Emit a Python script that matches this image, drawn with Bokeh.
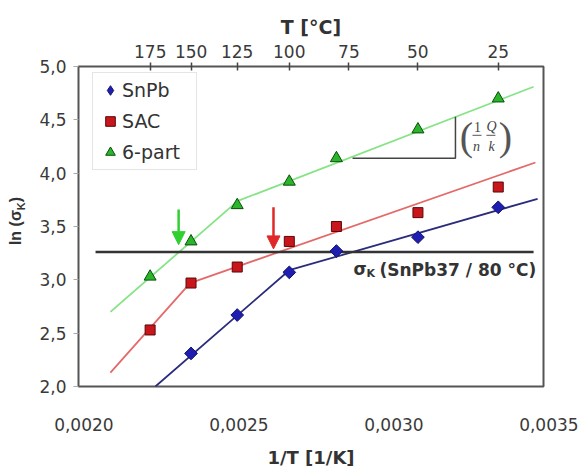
from math import pi
from bokeh.plotting import figure
from bokeh.layouts import row
from bokeh.models import (Range1d, LinearAxis, FixedTicker, Label, Arrow, NormalHead,
                          Legend, LegendItem, CustomJSTickFormatter, Div)
from bokeh.embed import file_html
from bokeh.resources import INLINE

# ---------------- data ----------------
inv_T_all = [0.002231, 0.002363, 0.002512, 0.002680, 0.002832, 0.003095, 0.003354]
inv_T_snpb = [0.002363, 0.002512, 0.002680, 0.002832, 0.003095, 0.003354]
ln_snpb = [2.31, 2.67, 3.07, 3.27, 3.40, 3.68]
ln_sac = [2.53, 2.97, 3.12, 3.36, 3.50, 3.63, 3.87]
ln_6part = [3.03, 3.36, 3.70, 3.92, 4.14, 4.41, 4.70]

fit_snpb_x = [0.002248, 0.002680, 0.003481]
fit_snpb_y = [2.00, 3.09, 3.76]
fit_sac_x = [0.002103, 0.002360, 0.003474]
fit_sac_y = [2.13, 2.97, 4.10]
fit_6part_x = [0.002103, 0.002514, 0.003468]
fit_6part_y = [2.70, 3.74, 4.81]

ref_x = [0.002055, 0.003468]
ref_y = [3.26, 3.26]

top_T_ticks = [175, 150, 125, 100, 75, 50, 25]
x_ticks = [0.0020, 0.0025, 0.0030, 0.0035]
y_ticks = [2.0, 2.5, 3.0, 3.5, 4.0, 4.5, 5.0]

SANS = "DejaVu Sans"
SERIF = "Liberation Serif"

p = figure(width=550, height=470, x_range=Range1d(0.0020, 0.0035), y_range=Range1d(2.0, 5.0),
           output_backend="svg", toolbar_location=None,
           min_border_left=48, min_border_right=37, min_border_top=66, min_border_bottom=83,
           background_fill_color="white", border_fill_color="white", margin=0)
p.xgrid.visible = False
p.ygrid.visible = False
p.outline_line_color = "#555555"
p.outline_line_width = 2

# bottom axis (labels sit a few pixels right of the tick positions, as in the reference)
xa = p.xaxis[0]
xa.ticker = FixedTicker(ticks=x_ticks)
xa.formatter = CustomJSTickFormatter(
    code="return '\\u00a0\\u00a0' + tick.toFixed(4).replace('.', ',');")
xa.axis_line_color = None
xa.major_tick_line_color = None
xa.minor_tick_line_color = None
xa.major_label_standoff = 22
xa.major_label_text_font = SANS
xa.major_label_text_font_size = "17px"
xa.major_label_text_color = "#3a3a3a"
xa.axis_label = "1/T [1/K]"
xa.axis_label_standoff = 9
xa.axis_label_text_font = SANS
xa.axis_label_text_font_style = "bold"
xa.axis_label_text_font_size = "18px"
xa.axis_label_text_color = "#333333"

# left axis
ya = p.yaxis[0]
ya.ticker = FixedTicker(ticks=y_ticks)
ya.formatter = CustomJSTickFormatter(code="return tick.toFixed(1).replace('.', ',');")
ya.axis_line_color = None
ya.major_tick_in = 0
ya.major_tick_out = 5
ya.major_tick_line_color = "#aaaaaa"
ya.minor_tick_line_color = None
ya.major_label_standoff = 7
ya.major_label_text_font = SANS
ya.major_label_text_font_size = "17px"
ya.major_label_text_color = "#3a3a3a"

# top axis (temperature)
top_ticks = [1.0 / (t + 273.15) for t in top_T_ticks]
ta = LinearAxis(ticker=FixedTicker(ticks=top_ticks),
                formatter=CustomJSTickFormatter(code="return Math.round(1/tick - 273.15).toString();"))
ta.axis_line_color = None
ta.major_tick_in = 4
ta.major_tick_out = 4
ta.major_tick_line_color = "#444444"
ta.major_tick_line_width = 1.5
ta.minor_tick_line_color = None
ta.major_label_standoff = 5
ta.major_label_text_font = SANS
ta.major_label_text_font_size = "17px"
ta.major_label_text_color = "#3a3a3a"
ta.axis_label = "T [°C]"
ta.axis_label_standoff = 4
ta.axis_label_text_font = SANS
ta.axis_label_text_font_style = "bold"
ta.axis_label_text_font_size = "19px"
ta.axis_label_text_color = "#333333"
p.add_layout(ta, "above")

# fit lines
p.line(fit_6part_x, fit_6part_y, line_color="#86e486", line_width=1.8)
p.line(fit_sac_x, fit_sac_y, line_color="#e46a6a", line_width=1.8)
p.line(fit_snpb_x, fit_snpb_y, line_color="#2c2c7c", line_width=1.8)
p.line(ref_x, ref_y, line_color="#333333", line_width=2.5)

# markers (a diamond renderer underneath supplies the legend swatch)
r_snpb_leg = p.scatter(inv_T_snpb, ln_snpb, marker="diamond", size=10,
                       fill_color="#1e1eb0", line_color="#12126e", line_width=1)
p.scatter(inv_T_snpb, ln_snpb, marker="square", angle=pi / 4, size=9,
          fill_color="#1e1eb0", line_color="#12126e", line_width=1)
r_sac = p.scatter(inv_T_all, ln_sac, marker="square", size=10,
                  fill_color="#c8161c", line_color="#5a0808", line_width=1)
r_6 = p.scatter(inv_T_all, ln_6part, marker="triangle", size=12,
                fill_color="#2ab52a", line_color="#0b4d0b", line_width=1)

# slope triangle
p.line([0.002884, 0.003216, 0.003216], [4.14, 4.14, 4.53], line_color="#444444", line_width=1.5)
p.segment(x0=[0.003271, 0.003316], y0=[4.355, 4.355], x1=[0.003300, 0.003345], y1=[4.355, 4.355],
          line_color="#555555", line_width=1)

# arrows
p.add_layout(Arrow(end=NormalHead(size=13, fill_color="#30d030", line_color="#30d030"),
                   x_start=0.002323, y_start=3.66, x_end=0.002323, y_end=3.33,
                   line_color="#30d030", line_width=2.5))
p.add_layout(Arrow(end=NormalHead(size=13, fill_color="#e02828", line_color="#e02828"),
                   x_start=0.002629, y_start=3.68, x_end=0.002629, y_end=3.29,
                   line_color="#e02828", line_width=2.5))

def lab(text, x, y, size, font=SANS, style="normal", align="left", baseline="middle",
        color="#333333"):
    p.add_layout(Label(x=x, y=y, x_units="screen", y_units="screen", text=text,
                       text_font=font, text_font_size=size, text_font_style=style,
                       text_align=align, text_baseline=baseline, text_color=color))

# reference label
lab("σ", 275, 118, "17px", style="bold")
lab("K", 288, 113, "11px", style="bold")
lab("(SnPb37 / 80 °C)", 301, 117, "17px", style="bold")

# fraction annotation
lab("(", 388, 250, "40px", font=SERIF, align="center", color="#555555")
lab(")", 427, 250, "40px", font=SERIF, align="center", color="#555555")
lab("1", 399, 260, "14px", font=SERIF, align="center", color="#444444")
lab("n", 398, 240, "14px", font=SERIF, style="italic", align="center", color="#444444")
lab("Q", 413, 260, "14px", font=SERIF, style="italic", align="center", color="#444444")
lab("k", 413, 240, "14px", font=SERIF, style="italic", align="center", color="#444444")

legend = Legend(items=[LegendItem(label="SnPb", renderers=[r_snpb_leg]),
                       LegendItem(label="SAC", renderers=[r_sac]),
                       LegendItem(label="6-part", renderers=[r_6])],
                location=(14, 216), margin=0, padding=5, spacing=7,
                label_height=24, glyph_height=24, glyph_width=24, label_standoff=0,
                label_width=69, label_text_font=SANS, label_text_font_size="19px",
                label_text_color="#333333", border_line_color="#cccccc", border_line_width=1,
                background_fill_color="white", background_fill_alpha=1.0)
p.add_layout(legend)

# y-axis title (with subscript) in a narrow side panel
ylab = Div(width=30, height=470, margin=0,
           text='<div style="position:absolute; left:17px; top:221px; '
                'transform:translate(-50%,-50%) rotate(-90deg); white-space:nowrap; '
                'font-family:\'Liberation Sans\'; font-weight:bold; font-size:16px; color:#333;">'
                'ln (σ<sub style="font-size:11px">K</sub>)</div>')

layout = row(ylab, p, spacing=0)
open("out.html", "w").write(file_html(layout, INLINE))
